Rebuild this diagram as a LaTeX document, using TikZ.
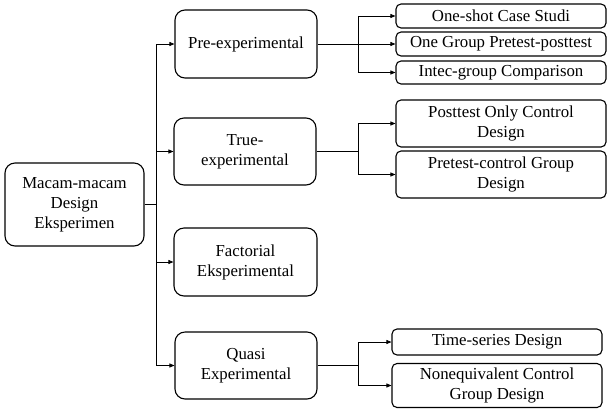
\documentclass[tikz,border=0pt]{standalone}
\usepackage{fontspec}
\setmainfont{Liberation Serif}
\usetikzlibrary{arrows.meta}
\begin{document}
\begin{tikzpicture}[x=1pt,y=-1pt,
  bigbox/.style={draw, line width=1.1pt, rounded corners=10pt, align=center, inner sep=0pt,
    font=\fontsize{16.8}{20}\selectfont},
  smallbox/.style={draw, line width=1.1pt, rounded corners=5pt, align=center, inner sep=0pt,
    font=\fontsize{16.8}{20}\selectfont, minimum width=210pt},
  conn/.style={line width=0.7pt},
  arr/.style={line width=0.7pt, -{Triangle[length=5pt,width=4pt]}}]
\useasboundingbox (0,0) rectangle (612,408);
% main nodes
\node[bigbox, minimum width=139pt, minimum height=83pt] (root) at (74.5,204.5) {Macam-macam\\Design\\Eksperimen};
\node[bigbox, minimum width=142pt, minimum height=68pt] (pre) at (246,44) {Pre-experimental};
\node[bigbox, minimum width=142pt, minimum height=67pt] (true) at (245,151.5) {True-\\experimental};
\node[bigbox, minimum width=143pt, minimum height=68pt] (fact) at (245.5,262) {Factorial\\Eksperimental};
\node[bigbox, minimum width=142pt, minimum height=67pt] (quasi) at (246,365.5) {Quasi\\Experimental};
% right nodes
\node[smallbox, minimum height=24pt] (os) at (501,16) {One-shot Case Studi};
\node[smallbox, minimum height=24pt] (og) at (501,44) {One Group Pretest-posttest};
\node[smallbox, minimum height=23pt] (ic) at (501,72.5) {Intec-group Comparison};
\node[smallbox, minimum height=47pt] (po) at (501,123.5) {Posttest Only Control\\Design};
\node[smallbox, minimum height=47pt] (pc) at (501,174.5) {Pretest-control Group\\Design};
\node[smallbox, minimum height=26pt] (ts) at (497,342) {Time-series Design};
\node[smallbox, minimum height=44pt] (ne) at (497,385.5) {Nonequivalent Control\\Group Design};
% trunk
\coordinate (t) at (156,204.5);
\draw[conn] (root.east) -- (t);
\draw[conn] (t |- pre.west) -- (t |- quasi.west);
\draw[arr] (t |- pre.west) -- (pre.west);
\draw[arr] (t |- true.west) -- (true.west);
\draw[arr] (t |- fact.west) -- (fact.west);
\draw[arr] (t |- quasi.west) -- (quasi.west);
% pre branch
\coordinate (b1) at (358,44);
\draw[arr] (pre.east) -- (og.west);
\draw[conn] (b1 |- os.west) -- (b1 |- ic.west);
\draw[arr] (b1 |- os.west) -- (os.west);
\draw[arr] (b1 |- ic.west) -- (ic.west);
% true branch
\coordinate (b2) at (358,151.5);
\draw[conn] (true.east) -- (b2);
\draw[conn] (b2 |- po.west) -- (b2 |- pc.west);
\draw[arr] (b2 |- po.west) -- (po.west);
\draw[arr] (b2 |- pc.west) -- (pc.west);
% quasi branch
\coordinate (b3) at (358,365.5);
\draw[conn] (quasi.east) -- (b3);
\draw[conn] (b3 |- ts.west) -- (b3 |- ne.west);
\draw[arr] (b3 |- ts.west) -- (ts.west);
\draw[arr] (b3 |- ne.west) -- (ne.west);
\end{tikzpicture}
\end{document}
